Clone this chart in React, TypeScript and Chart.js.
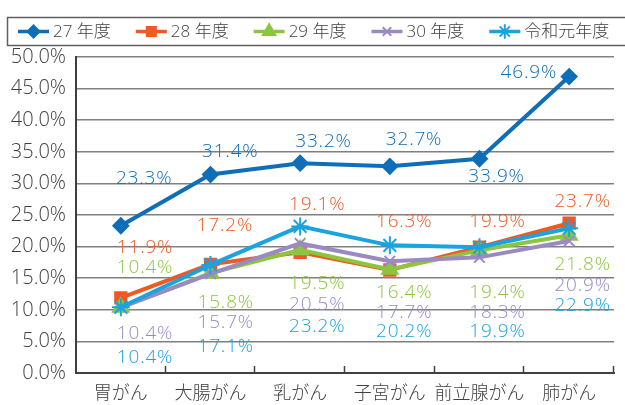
import React, { useEffect, useRef } from "react";
import { Chart, registerables } from "chart.js";
import { drawPoint } from "chart.js/helpers";
Chart.register(...registerables);

const categories = ["胃がん", "大腸がん", "乳がん", "子宮がん", "前立腺がん", "肺がん"];
const seriesNames = ["27 年度", "28 年度", "29 年度", "30 年度", "令和元年度"];
const values27 = [23.3, 31.4, 33.2, 32.7, 33.9, 46.9];
const values28 = [11.9, 17.2, 19.1, 16.3, 19.9, 23.7];
const values29 = [10.4, 15.8, 19.5, 16.4, 19.4, 21.8];
const values30 = [10.4, 15.7, 20.5, 17.7, 18.3, 20.9];
const valuesR1 = [10.4, 17.1, 23.2, 20.2, 19.9, 22.9];
const yMin = 0;
const yMax = 50;
const yStep = 5;

// label placement (value units on y, category fraction on x)
const labelY = [
  [30.7, 35.0, 36.6, 36.9, 31.1, 47.6],
  [19.9, 23.4, 26.6, 23.9, 23.9, 27.2],
  [16.6, 11.2, 14.1, 12.7, 12.7, 17.1],
  [6.3, 7.9, 10.8, 9.5, 9.5, 13.8],
  [2.5, 4.1, 7.3, 6.5, 6.5, 10.6],
];
const labelDx = [
  [0.26, 0.22, 0.26, 0.27, 0.19, -0.45],
  [0.27, 0.16, 0.19, 0.16, 0.2, 0.15],
  [0.27, 0.17, 0.19, 0.16, 0.2, 0.15],
  [0.27, 0.17, 0.19, 0.16, 0.2, 0.15],
  [0.27, 0.17, 0.19, 0.16, 0.2, 0.15],
];

const colors = ["#0E6EB8", "#EE5A24", "#8CC63F", "#9A8AC4", "#19A3E0"];
const pointStyles = ["rectRot", "rect", "triangle", "crossRot", "star"];
const pointRadii = [7.5, 8, 9, 7.5, 9];
const NUM_FONT = "'Open Sans', 'Noto Sans CJK JP', sans-serif";
const CJK_FONT = "'Noto Sans CJK JP', 'Noto Sans', sans-serif";

const labelPlugin = {
  id: "valueLabels",
  afterDatasetsDraw(chart: any) {
    const ctx = chart.ctx;
    const xs = chart.scales.x;
    const ys = chart.scales.y;
    const catW = xs.getPixelForValue(1) - xs.getPixelForValue(0);
    ctx.save();
    ctx.font = `300 19px ${NUM_FONT}`;
    (ctx as any).letterSpacing = "0.8px";
    ctx.textAlign = "center";
    ctx.textBaseline = "middle";
    chart.data.datasets.forEach((ds: any, di: number) => {
      ctx.fillStyle = colors[di];
      ds.data.forEach((v: number, i: number) => {
        const x = xs.getPixelForValue(i) + labelDx[di][i] * catW;
        const y = ys.getPixelForValue(labelY[di][i]);
        ctx.fillText(v.toFixed(1) + "%", x, y);
      });
    });
    (ctx as any).letterSpacing = "0px";
    ctx.restore();
  },
};

const axisTickPlugin = {
  id: "insideTicks",
  afterDraw(chart: any) {
    const ctx = chart.ctx;
    const xs = chart.scales.x;
    const bottom = chart.chartArea.bottom;
    const n = categories.length;
    const catW = xs.getPixelForValue(1) - xs.getPixelForValue(0);
    ctx.save();
    ctx.strokeStyle = "#404040";
    ctx.lineWidth = 1.5;
    for (let i = 1; i <= n; i++) {
      const x = Math.round(xs.getPixelForValue(i - 1) + catW / 2) - 0.5;
      ctx.beginPath();
      ctx.moveTo(x, bottom - 7);
      ctx.lineTo(x, bottom);
      ctx.stroke();
    }
    ctx.restore();
  },
};

const legendPlugin = {
  id: "customLegend",
  afterDraw(chart: any) {
    const ctx = chart.ctx;
    ctx.save();
    ctx.strokeStyle = "#606060";
    ctx.lineWidth = 1.5;
    ctx.strokeRect(7.5, 17.5, chart.width + 10, 28);
    ctx.font = `300 17px ${NUM_FONT}`;
    ctx.textBaseline = "middle";
    ctx.textAlign = "left";
    const cy = 31.5;
    let x = 18;
    seriesNames.forEach((name, i) => {
      ctx.strokeStyle = colors[i];
      ctx.lineWidth = 3.5;
      ctx.beginPath();
      ctx.moveTo(x, cy);
      ctx.lineTo(x + 31, cy);
      ctx.stroke();
      ctx.fillStyle = colors[i];
      ctx.strokeStyle = colors[i];
      ctx.lineWidth = 2;
      drawPoint(ctx, { pointStyle: pointStyles[i], radius: pointRadii[i] * 0.8, borderWidth: 2, rotation: 0 } as any, x + 15.5, cy);
      ctx.fillStyle = "#404040";
      ctx.fillText(name, x + 35, cy + 1);
      x += 35 + ctx.measureText(name).width + 25;
    });
    ctx.restore();
  },
};

export default function App() {
  const ref = useRef<HTMLCanvasElement>(null);
  useEffect(() => {
    document.body.style.margin = "0";
    const seriesValues = [values27, values28, values29, values30, valuesR1];
    const chart = new Chart(ref.current as HTMLCanvasElement, {
      type: "line",
      data: {
        labels: categories,
        datasets: seriesValues.map((vals, i) => ({
          label: seriesNames[i],
          data: vals,
          borderColor: colors[i],
          backgroundColor: colors[i],
          pointBackgroundColor: colors[i],
          pointBorderColor: colors[i],
          pointStyle: pointStyles[i] as any,
          pointRadius: pointRadii[i],
          pointBorderWidth: 2,
          borderWidth: 4,
          tension: 0,
          order: 4 - i,
        })),
      },
      options: {
        animation: false,
        responsive: false,
        devicePixelRatio: 1,
        layout: { padding: { top: 57, left: 0, right: 1, bottom: 0 } },
        plugins: { legend: { display: false }, tooltip: { enabled: false } },
        scales: {
          x: {
            type: "category",
            offset: true,
            grid: { display: true, drawOnChartArea: false, drawTicks: false, offset: true },
            border: { display: true, color: "#404040", width: 2 },
            ticks: { color: "#404040", font: { family: CJK_FONT, size: 18, weight: "300" as any }, padding: 8, maxRotation: 0, autoSkip: false },
            afterFit: (s: any) => { s.height = 32; },
          },
          y: {
            min: yMin,
            max: yMax,
            grid: { color: "#808080", lineWidth: 1.5, drawTicks: false },
            border: { display: true, color: "#404040", width: 2 },
            ticks: {
              stepSize: yStep,
              color: "#404040",
              font: { family: NUM_FONT, size: 20, weight: "300" as any },
              padding: 10,
              callback: (v: any) => Number(v).toFixed(1) + "%",
            },
            afterFit: (s: any) => { s.width = 76; },
          },
        },
      },
      plugins: [labelPlugin, axisTickPlugin, legendPlugin],
    });
    return () => chart.destroy();
  }, []);
  return <canvas ref={ref} width={625} height={405} style={{ display: "block" }} />;
}
